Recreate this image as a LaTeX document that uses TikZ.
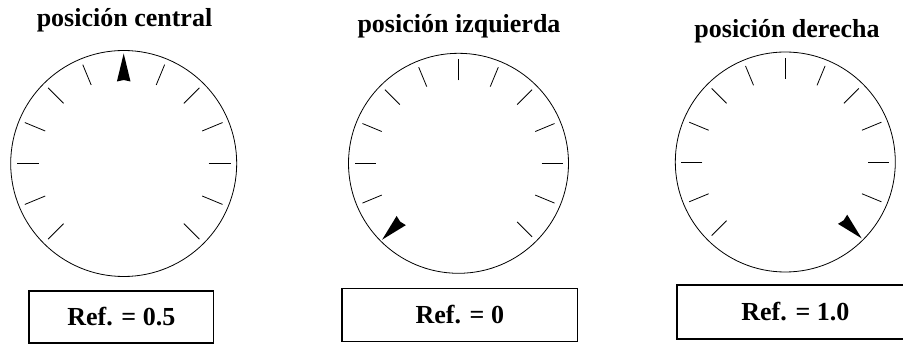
\documentclass[tikz,border=0pt]{standalone}
\usepackage{fontspec}
\setmainfont{Liberation Serif}
\begin{document}
\begin{tikzpicture}[x=1pt,y=1pt,
  dialcircle/.style={circle,draw=black,line width=0.8pt,inner sep=0pt},
  titletext/.style={font=\bfseries\fontsize{26}{30}\selectfont,inner sep=0pt,anchor=base},
  refbox/.style={draw=black,line width=1.2pt,font=\bfseries\fontsize{26}{30}\selectfont,inner sep=0pt},
  tickline/.style={line width=0.8pt},
  pointerfill/.style={fill=black}]
\useasboundingbox (0,0) rectangle (903,-344);
\clip (0,0) rectangle (903,-344);

% titles
\node[titletext] (t1) at (124.5,-27) {posición central};
\node[titletext] (t2) at (459,-33) {posición izquierda};
\node[titletext] (t3) at (787,-37.5) {posición derecha};

% dials
\node[dialcircle,minimum size=226pt] (d1) at (123.7,-163.5) {};
\node[dialcircle,minimum size=220pt] (d2) at (458.5,-163.3) {};
\node[dialcircle,minimum size=220pt] (d3) at (785.3,-162) {};

% ticks dial 1 (pointer at 90)
\begin{scope}[shift={(d1.center)}]
  \foreach \a in {-45,-22.5,0,22.5,45,67.5,112.5,135,157.5,180,202.5,225}
    \draw[tickline] (\a:85) -- (\a:107);
  \fill[pointerfill,rotate=90] (110,0) -- (82,6.8) -- (83.5,0) -- (82,-6.8) -- cycle;
\end{scope}

% ticks dial 2 (pointer at 225)
\begin{scope}[shift={(d2.center)}]
  \foreach \a in {-45,-22.5,0,22.5,45,67.5,90,112.5,135,157.5,180,202.5}
    \draw[tickline] (\a:83) -- (\a:104);
  \fill[pointerfill,rotate=225] (108,0) -- (81,6.5) -- (82.5,0) -- (81,-6.5) -- cycle;
\end{scope}

% ticks dial 3 (pointer at -45)
\begin{scope}[shift={(d3.center)}]
  \foreach \a in {-22.5,0,22.5,45,67.5,90,112.5,135,157.5,180,202.5,225}
    \draw[tickline] (\a:83) -- (\a:104);
  \fill[pointerfill,rotate=-45] (108,0) -- (81,6.5) -- (82.5,0) -- (81,-6.5) -- cycle;
\end{scope}

% reference boxes
\node[refbox,minimum width=184.5pt,minimum height=52pt] (b1) at (121.3,-317) {Ref. = 0.5};
\node[refbox,minimum width=235.5pt,minimum height=53.4pt] (b2) at (459.8,-315) {Ref. = 0};
\node[refbox,minimum width=237pt,minimum height=54pt] (b3) at (795.4,-312) {Ref. = 1.0};
\end{tikzpicture}
\end{document}
